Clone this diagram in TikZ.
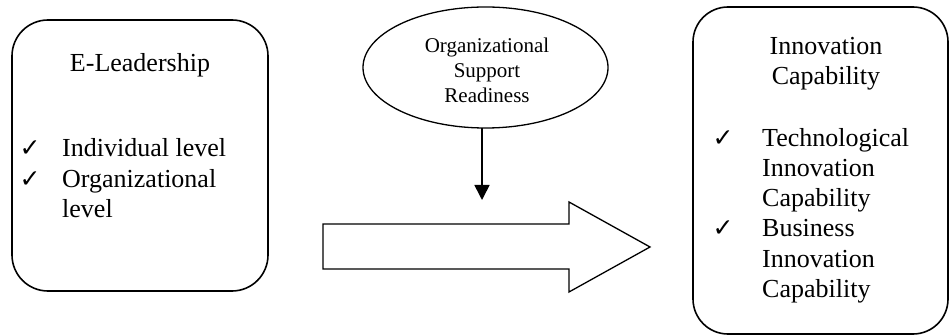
\documentclass[tikz,border=0pt]{standalone}
\usepackage{fontspec}
\setmainfont{Liberation Serif}
\newfontfamily\symfont{DejaVu Sans}
\usetikzlibrary{arrows.meta}
\begin{document}
\begin{tikzpicture}[x=1pt,y=1pt,
  boxline/.style={draw=black, line width=1.6pt},
  txt/.style={font=\fontsize{26}{30}\selectfont, inner sep=0pt, anchor=base west},
  ttl/.style={font=\fontsize{26}{30}\selectfont, inner sep=0pt, anchor=base},
  etxt/.style={font=\fontsize{21}{24.5}\selectfont, inner sep=0pt, anchor=base},
  chk/.style={font=\symfont\fontsize{25}{28}\selectfont, inner sep=0pt, anchor=base}]
\useasboundingbox (0,0) rectangle (952,-336);
% left box
\draw[boxline, rounded corners=36pt] (12,-20) rectangle (268,-291);
\node[ttl] (el) at (140,-72) {E-Leadership};
\node[chk] (c1) at (30,-157) {✓};
\node[txt] (l1) at (62,-157) {Individual level};
\node[chk] (c2) at (30,-188) {✓};
\node[txt] (l2) at (62,-188) {Organizational};
\node[txt] (l3) at (62,-218) {level};
% right box
\draw[boxline, rounded corners=35pt] (693,-7) rectangle (948,-334);
\node[ttl] (r0a) at (826,-55) {Innovation};
\node[ttl] (r0b) at (826,-85) {Capability};
\node[chk] (c3) at (723,-147) {✓};
\node[txt] (r1) at (762,-147) {Technological};
\node[txt] (r2) at (762,-177) {Innovation};
\node[txt] (r3) at (762,-207) {Capability};
\node[chk] (c4) at (723,-237) {✓};
\node[txt] (r4) at (762,-237) {Business};
\node[txt] (r5) at (762,-268) {Innovation};
\node[txt] (r6) at (762,-298) {Capability};
% ellipse
\draw[line width=1.3pt] (485.5,-67.5) ellipse [x radius=122.5, y radius=60.5];
\coordinate (ell) at (482,-128);
\node[etxt] (e1) at (487,-53) {Organizational};
\node[etxt] (e2) at (487,-78) {Support};
\node[etxt] (e3) at (487,-102.5) {Readiness};
\coordinate (tip) at (482,-200);
\draw[line width=1.6pt, -{Triangle[width=15pt,length=15pt]}] (ell) -- (tip);
% block arrow
\draw[line width=1.3pt, line join=miter] (323,-224) -- (569,-224) -- (569,-202) -- (650,-247) -- (569,-292) -- (569,-269) -- (323,-269) -- cycle;
\end{tikzpicture}
\end{document}
